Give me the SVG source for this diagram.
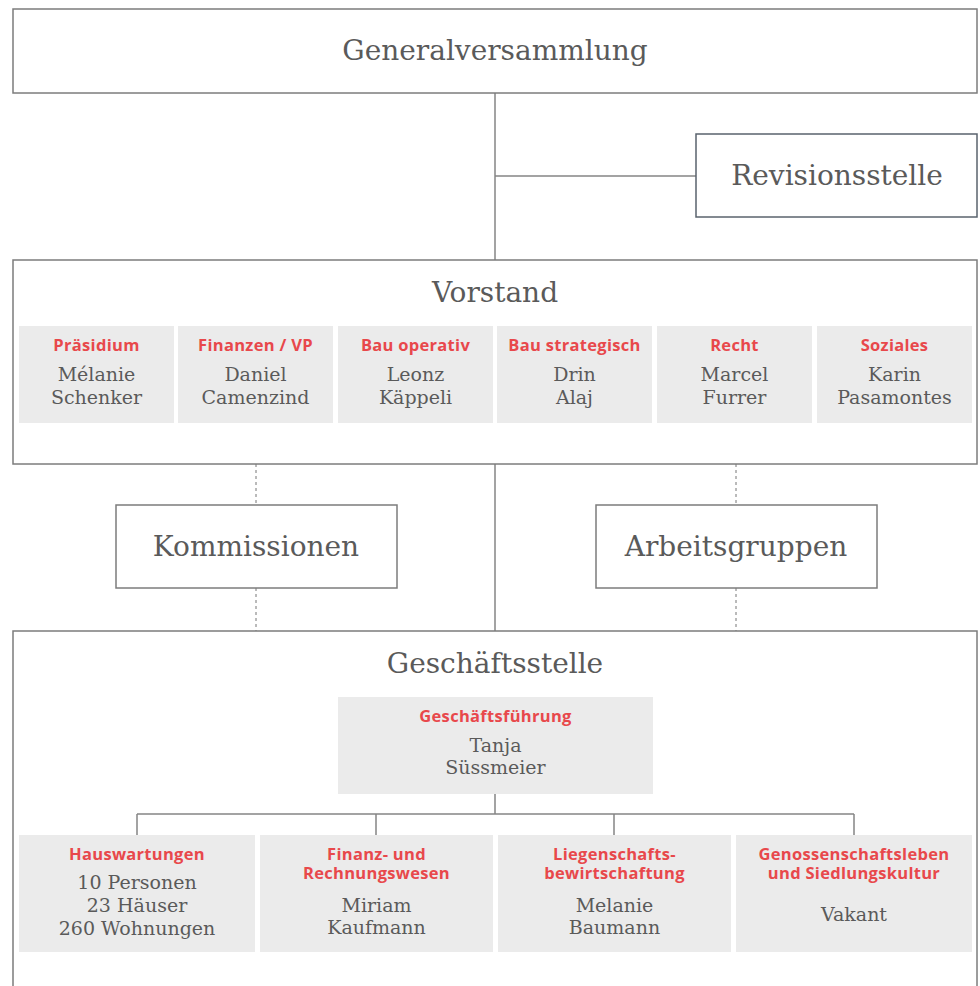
<svg xmlns="http://www.w3.org/2000/svg" width="980" height="986" viewBox="0 0 980 986">
<style>
.box{fill:none;stroke:#7c7c7c;stroke-width:1.5}
.cell{fill:#ebebeb}
.title{font-family:"DejaVu Serif","Liberation Serif",serif;font-size:28px;fill:#5a5a5a;text-anchor:middle}
.name{font-family:"DejaVu Serif","Liberation Serif",serif;font-size:19px;fill:#5a5a5a;text-anchor:middle}
.role{font-family:"Open Sans","Liberation Sans",sans-serif;font-weight:700;font-size:16.5px;letter-spacing:0.3px;fill:#e8484b;text-anchor:middle}
.line{stroke:#858585;stroke-width:1.5;fill:none}
.dash{stroke:#777;stroke-width:1;stroke-dasharray:3 3;fill:none}
</style>
<rect width="980" height="986" fill="#fff"/>
<g id="connectors">
<line class="line" x1="495" y1="93" x2="495" y2="260"/>
<line class="line" x1="495" y1="176" x2="696" y2="176"/>
<line class="line" x1="495" y1="464" x2="495" y2="631"/>
<line class="dash" x1="256" y1="464" x2="256" y2="505"/>
<line class="dash" x1="256" y1="588" x2="256" y2="631"/>
<line class="dash" x1="736" y1="464" x2="736" y2="505"/>
<line class="dash" x1="736" y1="588" x2="736" y2="631"/>
<line class="line" x1="495" y1="794" x2="495" y2="814"/>
<line class="line" x1="137" y1="814" x2="854" y2="814"/>
<line class="line" x1="137" y1="814" x2="137" y2="835"/>
<line class="line" x1="376" y1="814" x2="376" y2="835"/>
<line class="line" x1="614" y1="814" x2="614" y2="835"/>
<line class="line" x1="854" y1="814" x2="854" y2="835"/>
</g>
<g id="generalversammlung">
<rect class="box" x="13" y="9" width="964" height="84"/>
<text class="title" x="495" y="60">Generalversammlung</text>
</g>
<g id="revisionsstelle">
<rect class="box" x="696" y="134" width="281" height="83" style="stroke:#5a636d"/>
<text class="title" x="837" y="185">Revisionsstelle</text>
</g>
<g id="vorstand">
<rect class="box" x="13" y="260" width="964" height="204"/>
<text class="title" x="495" y="302">Vorstand</text>
</g>
<g id="praesidium">
<rect class="cell" x="19" y="326" width="155" height="97"/>
<text class="role" x="96.5" y="351">Präsidium</text>
<text class="name" x="96.5" y="381">Mélanie<tspan x="96.5" dy="23">Schenker</tspan></text>
</g>
<g id="finanzen">
<rect class="cell" x="178" y="326" width="155" height="97"/>
<text class="role" x="255.5" y="351">Finanzen / VP</text>
<text class="name" x="255.5" y="381">Daniel<tspan x="255.5" dy="23">Camenzind</tspan></text>
</g>
<g id="bau-operativ">
<rect class="cell" x="338" y="326" width="155" height="97"/>
<text class="role" x="415.5" y="351">Bau operativ</text>
<text class="name" x="415.5" y="381">Leonz<tspan x="415.5" dy="23">Käppeli</tspan></text>
</g>
<g id="bau-strategisch">
<rect class="cell" x="497" y="326" width="155" height="97"/>
<text class="role" x="574.5" y="351">Bau strategisch</text>
<text class="name" x="574.5" y="381">Drin<tspan x="574.5" dy="23">Alaj</tspan></text>
</g>
<g id="recht">
<rect class="cell" x="657" y="326" width="155" height="97"/>
<text class="role" x="734.5" y="351">Recht</text>
<text class="name" x="734.5" y="381">Marcel<tspan x="734.5" dy="23">Furrer</tspan></text>
</g>
<g id="soziales">
<rect class="cell" x="817" y="326" width="155" height="97"/>
<text class="role" x="894.5" y="351">Soziales</text>
<text class="name" x="894.5" y="381">Karin<tspan x="894.5" dy="23">Pasamontes</tspan></text>
</g>
<g id="kommissionen">
<rect class="box" x="116" y="505" width="281" height="83"/>
<text class="title" x="256" y="556">Kommissionen</text>
</g>
<g id="arbeitsgruppen">
<rect class="box" x="596" y="505" width="281" height="83"/>
<text class="title" x="736" y="556">Arbeitsgruppen</text>
</g>
<g id="geschaeftsstelle">
<rect class="box" x="13" y="631" width="964" height="370"/>
<text class="title" x="495" y="673">Geschäftsstelle</text>
</g>
<g id="geschaeftsfuehrung">
<rect class="cell" x="338" y="697" width="315" height="97"/>
<text class="role" x="495.5" y="722">Geschäftsführung</text>
<text class="name" x="495.5" y="752">Tanja<tspan x="495.5" dy="22">Süssmeier</tspan></text>
</g>
<g id="hauswartungen">
<rect class="cell" x="19" y="835" width="236" height="117"/>
<text class="role" x="137" y="860">Hauswartungen</text>
<text class="name" x="137" y="889">10 Personen<tspan x="137" dy="23">23 Häuser</tspan><tspan x="137" dy="23">260 Wohnungen</tspan></text>
</g>
<g id="finanz-rechnungswesen">
<rect class="cell" x="260" y="835" width="233" height="117"/>
<text class="role" x="376.5" y="860">Finanz- und<tspan x="376.5" dy="19">Rechnungswesen</tspan></text>
<text class="name" x="376.5" y="912">Miriam<tspan x="376.5" dy="22">Kaufmann</tspan></text>
</g>
<g id="liegenschaftsbewirtschaftung">
<rect class="cell" x="498" y="835" width="233" height="117"/>
<text class="role" x="614.5" y="860">Liegenschafts-<tspan x="614.5" dy="19">bewirtschaftung</tspan></text>
<text class="name" x="614.5" y="912">Melanie<tspan x="614.5" dy="22">Baumann</tspan></text>
</g>
<g id="genossenschaftsleben">
<rect class="cell" x="736" y="835" width="236" height="117"/>
<text class="role" x="854" y="860">Genossenschaftsleben<tspan x="854" dy="19">und Siedlungskultur</tspan></text>
<text class="name" x="854" y="921">Vakant</text>
</g>
</svg>
